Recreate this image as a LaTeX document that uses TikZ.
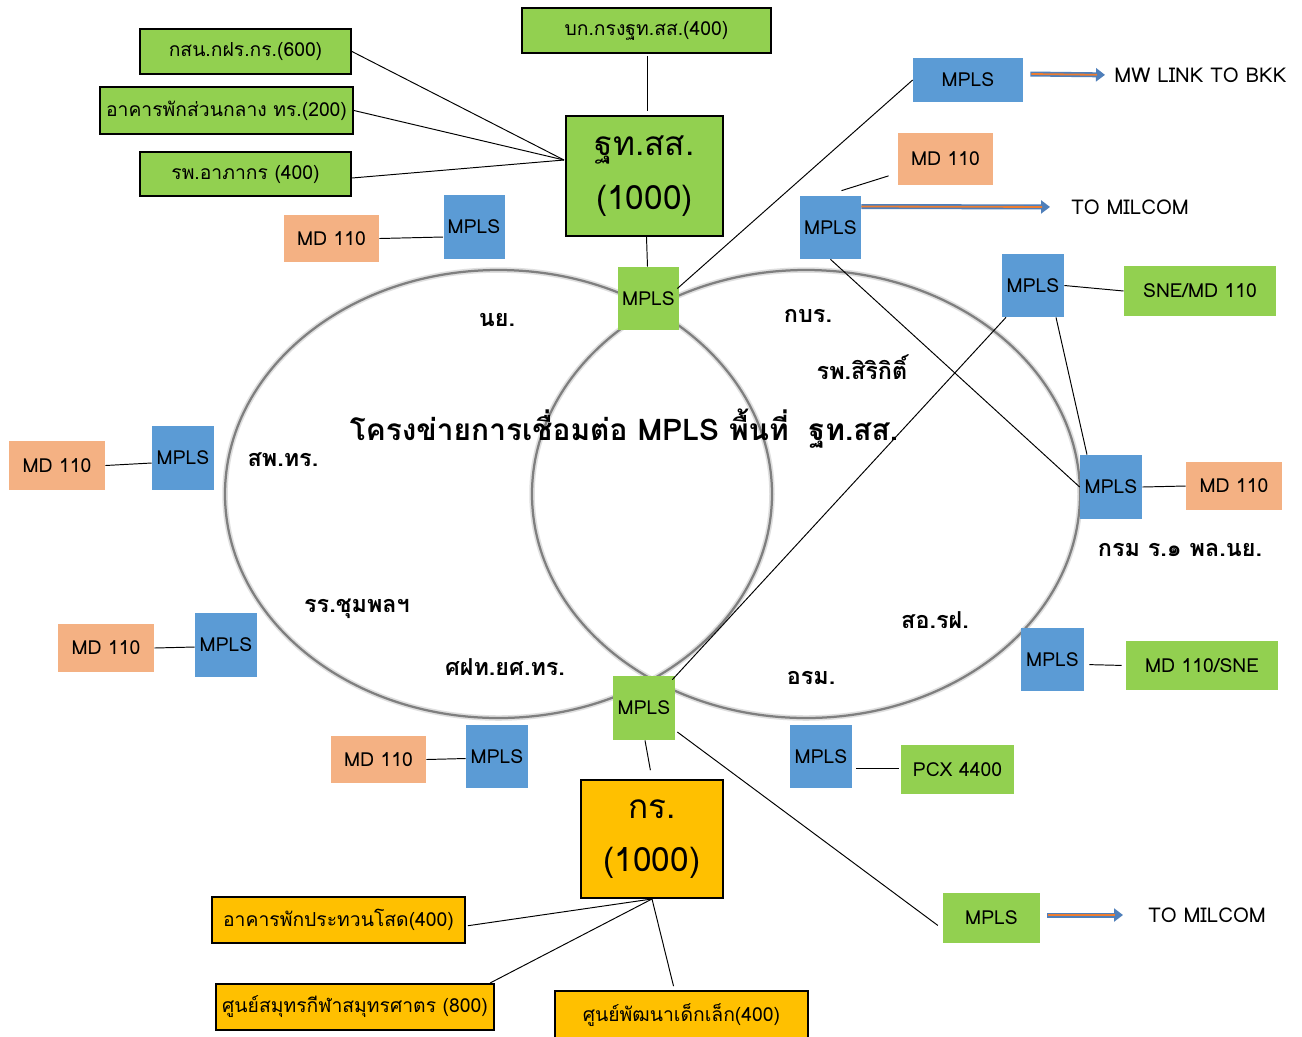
\documentclass[tikz,border=0pt]{standalone}
\usepackage{fontspec}
\setmainfont{Loma}[Script=Thai]
\usetikzlibrary{arrows.meta,calc}
\newdimen\pxu \pxu=0.02cm
\definecolor{grn}{HTML}{92D050}
\definecolor{blu}{HTML}{5B9BD5}
\definecolor{org}{HTML}{F4B183}
\definecolor{ylw}{HTML}{FFC000}
\definecolor{arrblue}{HTML}{4F7FBA}
\definecolor{arrorg}{HTML}{ED7D31}
\definecolor{ringgray}{HTML}{7F7F7F}
\tikzset{
  base/.style={inner sep=0pt, align=center, font=\fontsize{11}{13}\selectfont},
  gbox/.style={base, fill=grn, draw=black, line width=1.1pt},
  ybox/.style={base, fill=ylw, draw=black, line width=1.1pt},
  bbox/.style={base, fill=blu},
  obox/.style={base, fill=org},
  gpl/.style={base, fill=grn},
  hubtxt/.style={font=\fontsize{19}{30.5}\selectfont},
  lbl/.style={inner sep=0pt, font=\bfseries\fontsize{13.3}{15}\selectfont},
  ttl/.style={inner sep=0pt, font=\bfseries\fontsize{17}{19}\selectfont},
  plain/.style={inner sep=0pt, font=\fontsize{11.6}{13}\selectfont},
  link/.style={black, line width=0.55pt},
  fatshaft/.style={arrblue, line width=0.1cm, -{Triangle[length=0.18cm, width=0.26cm]}},
  fatcore/.style={arrorg, line width=0.036cm},
  ring/.style={ringgray, line width=0.045cm},
  ringhalo/.style={gray!25, line width=0.11cm},
}
\begin{document}
\begin{tikzpicture}[x=0.02cm, y=-0.02cm]
\useasboundingbox (0,0) rectangle (1302,1036);
\fill[white] (0,0) rectangle (1302,1036);

% rings
\draw[ringhalo] (498.5,494) ellipse [x radius=273.5\pxu, y radius=224\pxu];
\draw[ringhalo] (806,494) ellipse [x radius=274\pxu, y radius=224\pxu];
\draw[ring] (498.5,494) ellipse [x radius=273.5\pxu, y radius=224\pxu];
\draw[ring] (806,494) ellipse [x radius=274\pxu, y radius=224\pxu];

% top-left cluster
\node[gbox, minimum width=211\pxu, minimum height=45\pxu] (gA) at (245.5,51.5) {กสน.กฝร.กร.(600)};
\node[gbox, minimum width=253\pxu, minimum height=47\pxu] (gB) at (226.5,110.5) {อาคารพักส่วนกลาง ทร.(200)};
\node[gbox, minimum width=211\pxu, minimum height=44\pxu] (gC) at (245.5,174) {รพ.อาภากร (400)};
\node[gbox, minimum width=249\pxu, minimum height=45\pxu] (gD) at (646.5,30.5) {บก.กรงฐท.สส.(400)};
\node[gbox, minimum width=157\pxu, minimum height=120\pxu, hubtxt] (hub1) at (644.5,176) {ฐท.สส.\\(1000)};
\coordinate (hubL) at (564,160);

% MPLS / MD nodes
\node[obox, minimum width=95\pxu, minimum height=47\pxu] (o1) at (331.5,238.5) {MD 110};
\node[bbox, minimum width=61\pxu, minimum height=64\pxu] (b1) at (474,227) {MPLS};
\node[gpl, minimum width=61\pxu, minimum height=63\pxu] (m1) at (648.5,298.5) {MPLS};
\node[bbox, minimum width=110\pxu, minimum height=44\pxu] (b2) at (968,80) {MPLS};
\node[plain, anchor=west] (mw) at (1114,75) {MW LINK TO BKK};
\node[obox, minimum width=95\pxu, minimum height=52\pxu] (o2) at (945.5,159) {MD 110};
\node[bbox, minimum width=61\pxu, minimum height=63\pxu] (b3) at (830.5,227.5) {MPLS};
\node[plain, anchor=west] (mil1) at (1071,207) {TO MILCOM};
\node[bbox, minimum width=62\pxu, minimum height=63\pxu] (b4) at (1033,285.5) {MPLS};
\node[gpl, minimum width=152\pxu, minimum height=50\pxu] (g5) at (1200,291) {SNE/MD 110};
\node[bbox, minimum width=62\pxu, minimum height=64\pxu] (b5) at (1111,487) {MPLS};
\node[obox, minimum width=96\pxu, minimum height=48\pxu] (o3) at (1234,486) {MD 110};
\node[bbox, minimum width=63\pxu, minimum height=63\pxu] (b6) at (1052.5,659.5) {MPLS};
\node[gpl, minimum width=152\pxu, minimum height=49\pxu] (g6) at (1202,665.5) {MD 110/SNE};
\node[bbox, minimum width=62\pxu, minimum height=63\pxu] (b7) at (821,756.5) {MPLS};
\node[gpl, minimum width=113\pxu, minimum height=49\pxu] (g7) at (957.5,769.5) {PCX 4400};
\node[gpl, minimum width=62\pxu, minimum height=64\pxu] (m2) at (644,708) {MPLS};
\node[gpl, minimum width=97\pxu, minimum height=50\pxu] (m3) at (991.5,918) {MPLS};
\node[plain, anchor=west] (mil2) at (1148,915) {TO MILCOM};
\node[obox, minimum width=95\pxu, minimum height=47\pxu] (o4) at (378.5,759.5) {MD 110};
\node[bbox, minimum width=62\pxu, minimum height=63\pxu] (b8) at (497,756.5) {MPLS};
\node[obox, minimum width=96\pxu, minimum height=48\pxu] (o5) at (106,648) {MD 110};
\node[bbox, minimum width=62\pxu, minimum height=64\pxu] (b9) at (226,645) {MPLS};
\node[obox, minimum width=96\pxu, minimum height=49\pxu] (o6) at (57,465.5) {MD 110};
\node[bbox, minimum width=62\pxu, minimum height=64\pxu] (b10) at (183,458) {MPLS};

% bottom cluster
\node[ybox, minimum width=142\pxu, minimum height=118\pxu, hubtxt] (hub2) at (652,839) {กร.\\(1000)};
\node[ybox, minimum width=253\pxu, minimum height=46\pxu] (y1) at (338.5,920) {อาคารพักประทวนโสด(400)};
\node[ybox, minimum width=278\pxu, minimum height=46\pxu] (y2) at (355,1007) {ศูนย์สมุทรกีฬาสมุทรศาตร (800)};
\node[ybox, minimum width=253\pxu, minimum height=48\pxu] (y3) at (681.5,1015) {ศูนย์พัฒนาเด็กเล็ก(400)};

% labels
\node[lbl] (lNY) at (497,320) {นย.};
\node[lbl] (lKBR) at (808,316) {กบร.};
\node[lbl] (lRP) at (862,367) {รพ.สิริกิติ์};
\node[ttl] (title) at (624,429) {โครงข่ายการเชื่อมต่อ MPLS พื้นที่~~ฐท.สส.};
\node[lbl] (lSP) at (283,460) {สพ.ทร.};
\node[lbl] (lRR) at (357,609) {รร.ชุมพลฯ};
\node[lbl] (lSF) at (505,667) {ศฝท.ยศ.ทร.};
\node[lbl] (lSO) at (935,620) {สอ.รฝ.};
\node[lbl] (lOR) at (811,678) {อรม.};
\node[lbl] (lKRM) at (1180,550) {กรม ร.๑ พล.นย.};

% links
\draw[link] (gA.east) -- (hubL);
\draw[link] (gB.east) -- (hubL);
\draw[link] ([yshift=-4\pxu]gC.east) -- (hubL);
\draw[link] ([xshift=1\pxu,yshift=-2\pxu]gD.south) -- ([xshift=3\pxu,yshift=4\pxu]hub1.north);
\draw[link] ([xshift=2\pxu]hub1.south) -- ([xshift=-1\pxu]m1.north);
\draw[link] (o1.east) -- ([yshift=-10\pxu]b1.west);
\draw[link] ([xshift=-2\pxu,yshift=10\pxu]m1.east) -- (b2.west);
\draw[link, shorten <=0.336cm, shorten >=0.19cm] ([xshift=-5\pxu]b3.north) -- ([yshift=-14\pxu]o2.west);
\draw[link] (b3.south) -- (b5.west);
\draw[link] (b4.east) -- (g5.west);
\draw[link] ([xshift=23\pxu]b4.south) -- ([xshift=-24\pxu]b5.north);
\draw[link] ([xshift=-27\pxu]b4.south) -- ([xshift=-3\pxu,yshift=-4\pxu]m2.north east);
\draw[link] (b5.east) -- (o3.west);
\draw[link, shorten <=0.1cm, shorten >=0.08cm] ([yshift=-5\pxu]b6.east) -- (g6.west);
\draw[link, shorten <=0.08cm, shorten >=0.04cm] ([yshift=-12\pxu]b7.east) -- ([yshift=1\pxu]g7.west);
\draw[link, shorten >=0.12cm] ([xshift=2\pxu,yshift=-24\pxu]m2.east) -- ([yshift=-11\pxu]m3.west);
\draw[link, shorten >=0.18cm] ([xshift=1\pxu]m2.south) -- (hub2.north);
\draw[link, shorten >=0.04cm] (hub2.south) -- ([yshift=-6\pxu]y1.east);
\draw[link] (hub2.south) -- ([xshift=135\pxu]y2.north);
\draw[link, shorten >=0.08cm] (hub2.south) -- ([xshift=-7\pxu]y3.north);
\draw[link] (o4.east) -- ([yshift=-2\pxu]b8.west);
\draw[link] (o5.east) -- ([yshift=-2\pxu]b9.west);
\draw[link] (o6.east) -- ([yshift=-5\pxu]b10.west);

% fat arrows
\draw[fatshaft, shorten >=0.18cm] ([shift={(7\pxu,6\pxu)}]b2.east) -- (mw.west);
\draw[fatcore, shorten >=0.34cm] ([shift={(8\pxu,6\pxu)}]b2.east) -- (mw.west);
\draw[fatshaft, shorten >=0.42cm] ([yshift=21\pxu]b3.east) -- (mil1.west);
\draw[fatcore, shorten >=0.58cm] ([yshift=21\pxu]b3.east) -- (mil1.west);
\draw[fatshaft, shorten >=0.5cm] ([shift={(7\pxu,3\pxu)}]m3.east) -- (mil2.west);
\draw[fatcore, shorten >=0.66cm] ([shift={(8\pxu,3\pxu)}]m3.east) -- (mil2.west);
\end{tikzpicture}
\end{document}
